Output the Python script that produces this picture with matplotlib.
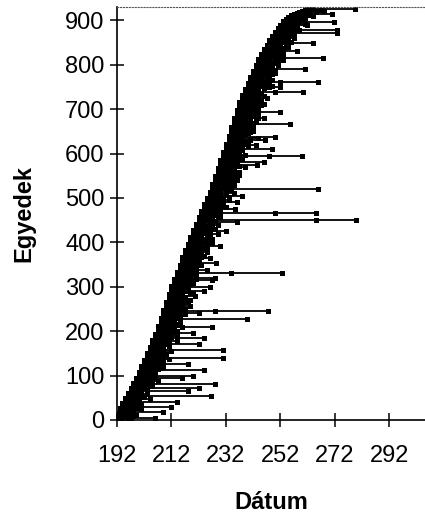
import numpy as np
import matplotlib
matplotlib.use('Agg')
import matplotlib.pyplot as plt

plt.rcParams['font.family'] = ['Liberation Sans', 'DejaVu Sans']

# first capture day -> number of individuals first seen that day
first_days = list(range(192, 264))
first_counts = [16, 12, 11, 11, 10, 11, 12, 11,
                13, 14, 14, 15, 15, 14, 15,
                17, 18, 18, 18, 19, 17,
                16, 16, 17, 16, 16, 15, 15,
                15, 15, 14, 15, 15, 14, 14,
                17, 18, 18, 18, 18, 18,
                19, 19, 20, 19, 18,
                15, 14, 14, 14, 13,
                13, 13, 12,
                11, 10, 10, 10,
                9, 8, 8, 8,
                5, 4, 4, 3, 3, 2, 2, 2, 2, 1]

# days between first and last capture for ordinary individuals (base-36 digits)
short_stay_rows = [
    "241352413627153241634251836241352417253614325192436213452731",
    "314253621425314726135243162834135246132742135263142541637218",
    "132415263742135281432635142731415283612432514613275142639213",
    "423152631824135261473152436291243516274315243726153241526834",
    "253142631751423692413524162738142536142731528472314253162413",
    "3415263172425163824153241726352143526a41325146372814253162431",
    "152436271432514368214135263714253142683513425361724213562941",
    "521346273514325162832415362174315284623142513627132534162837",
    "214352631435281426374125316249241352637153142638213142563728",
    "435216273821453628143524162937143252618425314726134152836214",
    "3214526371415263824125341627384125b6314232514627381425362814",
    "241526371831425369274213562814352416273121435268394251362714",
    "134251628342153627143524162839214352637141528362413251462738",
    "524136271824135268341524362719314253621842531627352145362814",
    "315246273842153628142534162739142536281732415263a84152362714",
    "241536281731425362184253162739214536281435241627381432516284",
    "421356273821453628143524162739415283621425314268373142536218",
]

# individuals with longer stays: row index and last capture day
long_rows = [4, 19, 30, 40, 55, 65, 72, 82, 95, 100, 112, 125, 140, 157,
             170, 185, 195, 210, 228, 240, 246, 266, 280, 290, 300, 316,
             319, 330, 353, 365, 392, 407, 425, 446, 450, 465, 476, 490,
             505, 519, 536, 555, 575, 580, 595, 610, 620, 630, 637, 666,
             680, 694, 724, 739, 750, 761, 791, 814, 830, 848, 871, 878,
             895, 915, 925]
long_ends = [206, 209, 212, 214, 226.5, 218, 222, 228, 216, 220, 224, 218,
             231, 231, 222, 224, 220, 227, 239.6, 222, 247.4, 217, 220.6,
             224, 226, 227, 228, 252.5, 228.5, 226, 230, 227, 232, 236, 280,
             265.3, 235.3, 236, 238, 265.8, 230.4, 237, 243.5, 246, 260,
             249, 243, 246.5, 250, 255.5, 246, 251.8, 247, 260.5, 252, 266,
             261, 267.7, 258, 264, 272.7, 272.7, 271.6, 271, 279.5]

# intermediate recaptures on some long lines
mid_rows = [330, 450, 465, 246, 595, 761, 739]
mid_days = [234, 265, 250, 228, 248, 252, 250]

starts = np.repeat(first_days, first_counts).astype(float)
n = len(starts)
ys = np.arange(1, n + 1)
stay = np.array([int(c, 36) for c in "".join(short_stay_rows)][:n], dtype=float)
ends = starts + stay
for r, e in zip(long_rows, long_ends):
    ends[r - 1] = max(e, ends[r - 1])

fig = plt.figure(figsize=(4.25, 5.19), dpi=100)
ax = fig.add_axes([0.2753, 0.1908, 0.7247, 0.7958])

ax.hlines(ys, starts, ends, colors='black', lw=1.3)
ax.plot(starts, ys, 's', color='black', ms=3.6, mew=0)
ax.plot(ends, ys, 's', color='black', ms=3.6, mew=0)
ax.plot(mid_days, mid_rows, 's', color='black', ms=3.6, mew=0)

ax.set_xlim(192, 305.2)
ax.set_ylim(0, 930)
ax.set_xticks(range(192, 293, 20))
ax.set_yticks(range(0, 901, 100))
ax.tick_params(axis='both', direction='inout', length=10, width=1.1,
               labelsize=17, colors='black')
ax.tick_params(axis='x', pad=13)
ax.tick_params(axis='y', pad=4)

ax.spines['right'].set_visible(False)
ax.spines['top'].set_linestyle(':')
ax.spines['top'].set_color('#555555')
ax.spines['top'].set_linewidth(0.8)
for s in ['left', 'bottom']:
    ax.spines[s].set_linewidth(1.2)

ax.set_xlabel('Dátum', fontsize=17, fontweight='bold', labelpad=17)
ax.set_ylabel('Egyedek', fontsize=17, fontweight='bold', labelpad=21)

fig.savefig('out.png', dpi=100)
